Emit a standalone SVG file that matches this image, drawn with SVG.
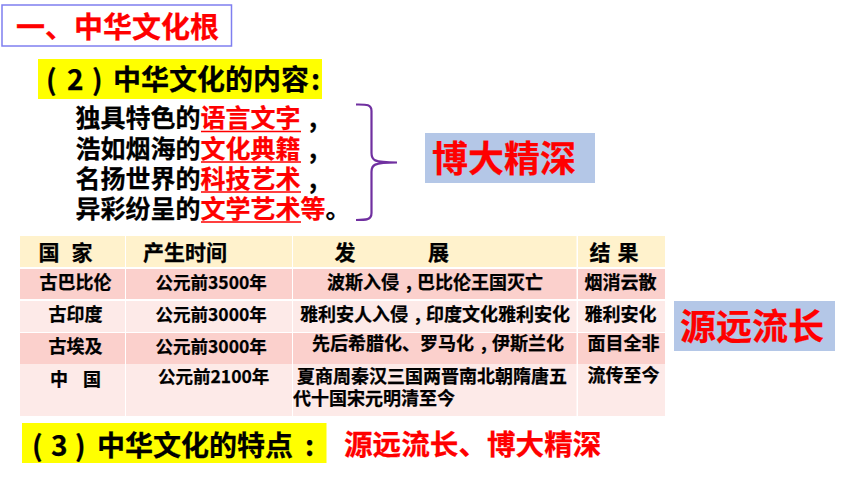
<svg xmlns="http://www.w3.org/2000/svg" width="860" height="484" viewBox="0 0 860 484">
<style>
text{font-family:"Noto Sans CJK SC","Liberation Sans",sans-serif;font-weight:700;fill:#000;stroke:#000;stroke-width:.25}
text.r,.r{fill:#f00;stroke:#f00}
.b{font-size:25px}
.h{font-size:21px}
.c{font-size:17.500px}
.e{font-size:18px}
.y{fill:#ff0}
.u{stroke:#f00;stroke-width:1.500;fill:none}
.hd{fill:#fff2cc}.d{fill:#fbd0cc}.l{fill:#fdeae8}
.bl{fill:#b4c7e7}
</style>
<rect width="860" height="484" fill="#fff"/>
<g id="title">
<rect x="2" y="5" width="229.500" height="41" fill="#fff" stroke="#7f7ff0" stroke-width="1.500"/>
<text class="r" x="16" y="38" font-size="29">一、中华文化根</text>
</g>
<g id="content-heading">
<rect class="y" x="38" y="59" width="284" height="40"/>
<text y="90" font-size="28"><tspan x="46">(</tspan><tspan x="67">2</tspan><tspan x="92">)</tspan><tspan x="113">中华文化的内容</tspan><tspan x="311">:</tspan></text>
</g>
<g id="content-list">
<text class="b" y="127"><tspan x="75.500">独具特色的</tspan><tspan class="r">语言文字</tspan><tspan x="309">,</tspan></text>
<text class="b" y="158"><tspan x="75.500">浩如烟海的</tspan><tspan class="r">文化典籍</tspan><tspan x="309">,</tspan></text>
<text class="b" y="188"><tspan x="75.500">名扬世界的</tspan><tspan class="r">科技艺术</tspan><tspan x="309">,</tspan></text>
<text class="b" y="218"><tspan x="75.500">异彩纷呈的</tspan><tspan class="r">文学艺术等</tspan>。</text>
<path class="u" d="M201 131.500H301M201 162H301M201 192H301M201 222H301"/>
</g>
<g id="connectors">
<path d="M356 104.500C366 104.500 371.500 104 371.500 111V153C371.500 160 373 162.500 397 162.500C373 162.500 371.500 165 371.500 172V213C371.500 220 366 220 356 220" fill="none" stroke="#7030a0" stroke-width="2.200"/>
</g>
<g id="tag-depth">
<rect class="bl" x="425" y="133" width="170" height="50"/>
<text class="r" x="432" y="172" font-size="36">博大精深</text>
</g>
<g id="table">
<rect class="hd" x="20" y="236" width="105" height="31"/><rect class="hd" x="126" y="236" width="166" height="31"/><rect class="hd" x="293" y="236" width="283.500" height="31"/><rect class="hd" x="578" y="236" width="87" height="31"/>
<rect class="d" x="20" y="269" width="105" height="30"/><rect class="d" x="126" y="269" width="166" height="30"/><rect class="d" x="293" y="269" width="283.500" height="30"/><rect class="d" x="578" y="269" width="87" height="30"/>
<rect class="l" x="20" y="301" width="105" height="31"/><rect class="l" x="126" y="301" width="166" height="31"/><rect class="l" x="293" y="301" width="283.500" height="31"/><rect class="l" x="578" y="301" width="87" height="31"/>
<rect class="d" x="20" y="333" width="105" height="31"/><rect class="d" x="126" y="333" width="166" height="31"/><rect class="d" x="293" y="333" width="283.500" height="31"/><rect class="d" x="578" y="333" width="87" height="31"/>
<rect class="l" x="20" y="364" width="105" height="52"/><rect class="l" x="126" y="364" width="166" height="52"/><rect class="l" x="293" y="364" width="283.500" height="52"/><rect class="l" x="578" y="364" width="87" height="52"/>
<text class="h" x="38.500" y="260">国</text><text class="h" x="71.500" y="260">家</text>
<text class="h" x="143" y="260">产生时间</text>
<text class="h" x="334.500" y="260">发</text><text class="h" x="428" y="260">展</text>
<text class="h" x="589.500" y="260">结</text><text class="h" x="617.500" y="260">果</text>
<text class="e" x="39.500" y="289">古巴比伦</text>
<text class="c" x="155.500" y="289">公元前3500年</text>
<text class="e" y="289"><tspan x="327">波斯入侵</tspan><tspan x="406">,</tspan><tspan x="417">巴比伦王国灭亡</tspan></text>
<text class="e" x="584.500" y="289">烟消云散</text>
<text class="e" x="48.500" y="321">古印度</text>
<text class="c" x="155.500" y="321">公元前3000年</text>
<text class="e" y="321"><tspan x="300">雅利安人入侵</tspan><tspan x="415">,</tspan><tspan x="426">印度文化雅利安化</tspan></text>
<text class="e" x="584.500" y="321">雅利安化</text>
<text class="e" x="48.500" y="353">古埃及</text>
<text class="c" x="155.500" y="353">公元前3000年</text>
<text class="e" y="350"><tspan x="312">先后希腊化、罗马化</tspan><tspan x="481">,</tspan><tspan x="492">伊斯兰化</tspan></text>
<text class="e" x="587.500" y="350">面目全非</text>
<text class="e" x="50" y="386">中</text><text class="e" x="83" y="386">国</text>
<text class="c" x="158" y="383">公元前2100年</text>
<text class="e" x="297" y="383">夏商周秦汉三国两晋南北朝隋唐五</text>
<text class="e" x="293" y="405">代十国宋元明清至今</text>
<text class="e" x="587.500" y="382">流传至今</text>
</g>
<g id="tag-origin">
<rect class="bl" x="674" y="301" width="161" height="50"/>
<text class="r" x="680" y="340" font-size="36">源远流长</text>
</g>
<g id="feature">
<rect class="y" x="22" y="423" width="304.500" height="40"/>
<text y="456" font-size="28"><tspan x="32">(</tspan><tspan x="51">3</tspan><tspan x="75">)</tspan><tspan x="97">中华文化的特点</tspan><tspan x="305">:</tspan></text>
<text class="r" x="344" y="455" font-size="28.600">源远流长、博大精深</text>
</g>
</svg>
